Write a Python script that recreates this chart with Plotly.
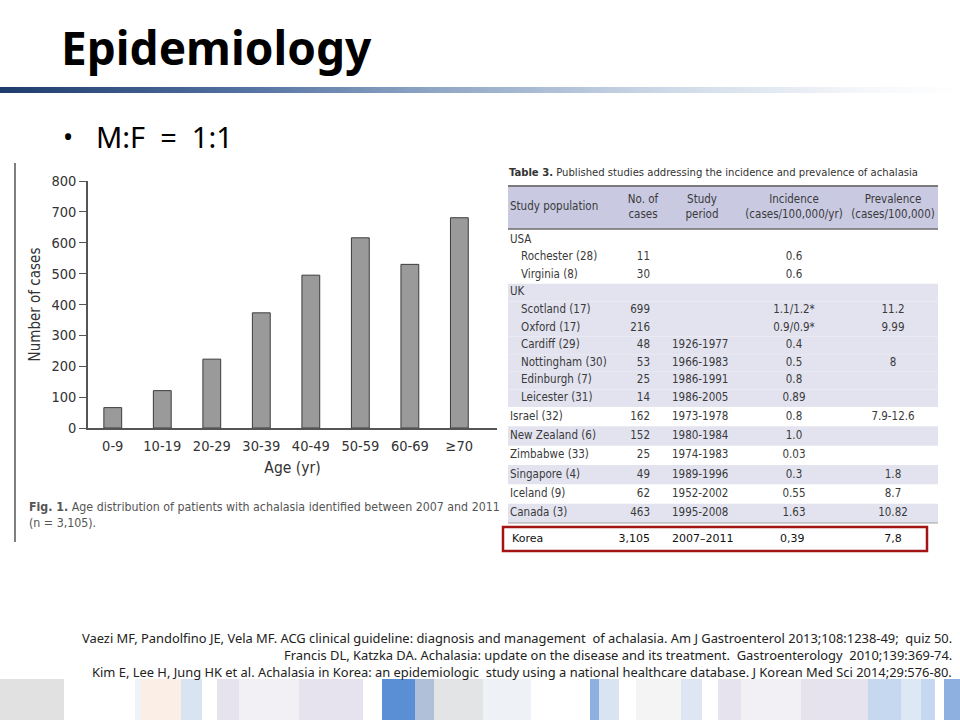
import plotly.graph_objects as go

W, H = 960, 720

# ---------------- data ----------------
age_groups = ["0-9", "10-19", "20-29", "30-39", "40-49", "50-59", "60-69", "≥70"]
cases = [66, 121, 223, 373, 495, 616, 530, 681]
y_ticks = [0, 100, 200, 300, 400, 500, 600, 700, 800]

tbl_header = ["Study population", "No. of<br>cases", "Study<br>period",
              "Incidence<br>(cases/100,000/yr)", "Prevalence<br>(cases/100,000)"]
tbl_population = ["USA", "Rochester (28)", "Virginia (8)", "UK", "Scotland (17)",
                  "Oxford (17)", "Cardiff (29)", "Nottingham (30)", "Edinburgh (7)",
                  "Leicester (31)", "Israel (32)", "New Zealand (6)", "Zimbabwe (33)",
                  "Singapore (4)", "Iceland (9)", "Canada (3)"]
tbl_sublevel = [0, 1, 1, 0, 1, 1, 1, 1, 1, 1, 0, 0, 0, 0, 0, 0]
tbl_cases = ["", "11", "30", "", "699", "216", "48", "53", "25", "14",
             "162", "152", "25", "49", "62", "463"]
tbl_period = ["", "", "", "", "", "", "1926-1977", "1966-1983", "1986-1991",
              "1986-2005", "1973-1978", "1980-1984", "1974-1983", "1989-1996",
              "1952-2002", "1995-2008"]
tbl_incidence = ["", "0.6", "0.6", "", "1.1/1.2*", "0.9/0.9*", "0.4", "0.5", "0.8",
                 "0.89", "0.8", "1.0", "0.03", "0.3", "0.55", "1.63"]
tbl_prevalence = ["", "", "", "", "11.2", "9.99", "", "8", "", "",
                  "7.9-12.6", "", "", "1.8", "8.7", "10.82"]
tbl_shaded = [0, 0, 0, 1, 1, 1, 1, 1, 1, 1, 0, 1, 0, 1, 0, 1]
korea_row = ["Korea", "3,105", "2007\u20132011", "0,39", "7,8"]

refs = [
    "Vaezi MF, Pandolfino JE, Vela MF. ACG clinical guideline: diagnosis and management  of achalasia. Am J Gastroenterol 2013;108:1238-49;  quiz 50.",
    "Francis DL, Katzka DA. Achalasia: update on the disease and its treatment.  Gastroenterology  2010;139:369-74.",
    "Kim E, Lee H, Jung HK et al. Achalasia in Korea: an epidemiologic  study using a national healthcare database. J Korean Med Sci 2014;29:576-80.",
]

# bottom decorative strip: (x0, x1, colour)
strip = [(0, 64, "#e1e1e1"), (135, 141, "#eff2f6"), (141, 181, "#faeee6"),
         (181, 202, "#d9e4f2"), (217, 239, "#e6e2ee"), (239, 299, "#f2f0f5"),
         (299, 363, "#e6e2ee"), (382, 415, "#5a8fd6"), (415, 434, "#b0c0d8"),
         (434, 483, "#e2e4e6"), (483, 531, "#eef2f6"), (590, 599, "#8db0e0"),
         (599, 619, "#d9e4f2"), (636, 681, "#f4f4f4"), (681, 702, "#dde6f2"),
         (718, 741, "#e6e2ee"), (741, 801, "#f2f0f5"), (801, 868, "#e6e2ee"),
         (868, 901, "#c5d8ef"), (901, 921, "#dde8f5"), (921, 935, "#c5d8ef"),
         (944, 960, "#8db0e0")]

# ---------------- style / layout constants ----------------
NARROW = "DejaVu Sans Condensed, Roboto, sans-serif"
SANS = "Noto Sans, Open Sans, sans-serif"
HDR_FILL = "#c9c9e2"
SHADE = "#e3e3f0"
TXT = "#3a3a3a"
TBL_FONT = dict(family=NARROW, size=11.5, color=TXT)

TBL_X0, TBL_X1 = 508, 938
HDR_TOP, HDR_BOT = 186, 229
BODY_TOP = 231
COL_POP, COL_INDENT = 510, 11
COL_CASES_R, COL_PERIOD_L, COL_INC_C, COL_PREV_C = 650, 672, 794, 893
KOREA_Y = 539


def px(x):
    return x / W


def py(y):
    return 1 - y / H


# row geometry (UK block rows are tighter than the single-country rows)
row_h = [17.6 if i < 10 else 19.33 for i in range(len(tbl_population))]
row_top = []
acc = BODY_TOP
for h in row_h:
    row_top.append(acc)
    acc += h
row_mid = [t + h / 2 for t, h in zip(row_top, row_h)]

fig = go.Figure()

# ---- bar chart ----
fig.add_trace(go.Bar(
    x=age_groups, y=cases, width=0.36,
    marker=dict(color="#9a9a9a", line=dict(color="#3c3c3c", width=1)),
    xaxis="x", yaxis="y", hoverinfo="skip",
))


# ---- table (text on a page-sized hidden axis in pixel units) ----
def text_trace(xs, ys, texts, pos, font):
    return go.Scatter(x=xs, y=ys, text=texts, mode="text", textposition=pos,
                      textfont=font, xaxis="x3", yaxis="y3", hoverinfo="skip",
                      cliponaxis=False)


hdr_mid = (HDR_TOP + HDR_BOT) / 2
fig.add_trace(text_trace(
    [COL_POP, 643, 702, COL_INC_C, COL_PREV_C],
    [hdr_mid] * 5, tbl_header,
    ["middle right", "middle center", "middle center", "middle center", "middle center"],
    TBL_FONT))
fig.add_trace(text_trace([COL_POP + COL_INDENT * s for s in tbl_sublevel], row_mid,
                         tbl_population, "middle right", TBL_FONT))
fig.add_trace(text_trace([COL_CASES_R] * len(row_mid), row_mid, tbl_cases,
                         "middle left", TBL_FONT))
fig.add_trace(text_trace([COL_PERIOD_L] * len(row_mid), row_mid, tbl_period,
                         "middle right", TBL_FONT))
fig.add_trace(text_trace([COL_INC_C] * len(row_mid), row_mid, tbl_incidence,
                         "middle center", TBL_FONT))
fig.add_trace(text_trace([COL_PREV_C] * len(row_mid), row_mid, tbl_prevalence,
                         "middle center", TBL_FONT))
fig.add_trace(text_trace(
    [512, COL_CASES_R, COL_PERIOD_L, 780, COL_PREV_C], [KOREA_Y] * 5, korea_row,
    ["middle right", "middle left", "middle right", "middle right", "middle center"],
    dict(family="DejaVu Sans, Noto Sans CJK KR", size=11, color="#111111")))

# gradient rule under the title
fig.add_trace(go.Scatter(
    x=[0, 960, 960, 0, 0], y=[87, 87, 93, 93, 87], mode="lines",
    line=dict(width=0), fill="toself",
    fillgradient=dict(type="horizontal",
                      colorscale=[[0, "#1d3b6b"], [0.25, "#5271a0"], [0.45, "#8ea5c4"],
                                  [0.7, "#cfdae8"], [0.9, "#f5f7fa"], [1, "#ffffff"]]),
    xaxis="x3", yaxis="y3", hoverinfo="skip",
))

shapes = []
for x0, x1, c in strip:
    shapes.append(dict(type="rect", xref="paper", yref="paper", x0=px(x0), x1=px(x1),
                       y0=py(720), y1=py(679), fillcolor=c, line=dict(width=0),
                       layer="below"))
# table backgrounds
shapes.append(dict(type="rect", xref="paper", yref="paper", x0=px(TBL_X0), x1=px(TBL_X1),
                   y0=py(HDR_BOT), y1=py(HDR_TOP), fillcolor=HDR_FILL, line=dict(width=0),
                   layer="below"))
for t, h, s in zip(row_top, row_h, tbl_shaded):
    if s:
        shapes.append(dict(type="rect", xref="paper", yref="paper", x0=px(TBL_X0),
                           x1=px(TBL_X1), y0=py(t + h), y1=py(t), fillcolor=SHADE,
                           line=dict(width=0), layer="below"))
tbl_bottom = row_top[-1] + row_h[-1]
for y, c, w in [(HDR_TOP, "#7a7a7a", 2), (HDR_BOT, "#6c6c6c", 1.5),
                (tbl_bottom, "#a0a0a0", 1)]:
    shapes.append(dict(type="line", xref="paper", yref="paper", x0=px(TBL_X0),
                       x1=px(TBL_X1), y0=py(y), y1=py(y), line=dict(color=c, width=w),
                       layer="below"))
# red highlight box
shapes.append(dict(type="rect", xref="paper", yref="paper", x0=px(503), x1=px(927),
                   y0=py(551), y1=py(527), line=dict(color="#a31515", width=2.5)))
# left rule beside the figure
shapes.append(dict(type="line", xref="paper", yref="paper", x0=px(15), x1=px(15),
                   y0=py(542), y1=py(163), line=dict(color="#555555", width=1.5)))

annotations = [
    dict(text="<b>Epidemiology</b>", x=px(59), y=py(47), xanchor="left", yanchor="middle",
         font=dict(family=SANS, size=46, color="#000000")),
    dict(text="•", x=px(61), y=py(136), xanchor="left", yanchor="middle",
         font=dict(family=SANS, size=27, color="#000000")),
    dict(text="M:F\u00a0 =\u00a0 1:1", x=px(94), y=py(136), xanchor="left", yanchor="middle",
         font=dict(family=SANS, size=29, color="#000000")),
    dict(text="<b>Fig. 1.</b> Age distribution of patients with achalasia identified between 2007 and 2011<br>(n = 3,105).",
         x=px(27), y=py(498), xanchor="left", yanchor="top", align="left",
         font=dict(family=NARROW, size=12.3, color="#555555")),
    dict(text="<b>Table 3.</b> Published studies addressing the incidence and prevalence of achalasia",
         x=px(507), y=py(172), xanchor="left", yanchor="middle",
         font=dict(family=NARROW, size=11.2, color="#333333")),
]
for t, yy in zip(refs, [638, 655, 672]):
    annotations.append(dict(text=t, x=px(954), y=py(yy), xanchor="right", yanchor="middle",
                            font=dict(family=SANS, size=12.9, color="#222222")))
for a in annotations:
    a.update(xref="paper", yref="paper", showarrow=False)

fig.update_layout(
    template="none",
    width=W, height=H, margin=dict(l=0, r=0, t=0, b=0, pad=0, autoexpand=False),
    paper_bgcolor="#ffffff", plot_bgcolor="rgba(0,0,0,0)", showlegend=False,
    shapes=shapes, annotations=annotations,
    xaxis=dict(domain=[px(88), px(497)], range=[-0.5, 7.76], showline=True,
               automargin=False,
               linecolor="#555555", linewidth=1.5, ticks="outside", ticklen=4,
               tickcolor="rgba(0,0,0,0)", showgrid=False, zeroline=False,
               tickfont=dict(family=NARROW, size=14.5, color="#333333"),
               title=dict(text="Age (yr)", font=dict(family=NARROW, size=15.5, color="#333333"),
                          standoff=9)),
    yaxis=dict(domain=[py(428), py(181)], range=[0, 800], tickvals=y_ticks,
               automargin=False,
               showline=True, linecolor="#555555", linewidth=1.5, ticks="outside",
               ticklen=7, tickcolor="#555555", tickwidth=1.2, showgrid=False,
               zeroline=False, tickfont=dict(family=NARROW, size=14.5, color="#333333"),
               title=dict(text="Number of cases", font=dict(family=NARROW, size=15, color="#333333"),
                          standoff=7)),
    xaxis3=dict(domain=[0, 1], range=[0, 960], visible=False, fixedrange=True,
                automargin=False),
    yaxis3=dict(domain=[0, 1], range=[720, 0], visible=False, fixedrange=True,
                automargin=False),
)

page_fix = (
    "document.documentElement.style.margin='0';"
    "document.documentElement.style.overflow='hidden';"
    "document.body.style.margin='0';document.body.style.overflow='hidden';"
    "var g=document.querySelector('.plotly-graph-div');"
    "if(g&&g.parentElement){g.parentElement.style.height='720px';"
    "g.parentElement.style.overflow='hidden';}"
)
fig.write_html("out.html", config={"displayModeBar": False}, post_script=page_fix)
